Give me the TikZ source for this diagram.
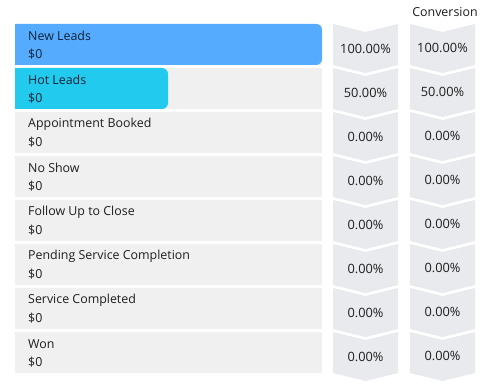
\documentclass[tikz,border=0pt]{standalone}
\usepackage{fontspec}
\setmainfont{Open Sans}
\definecolor{leadblue}{HTML}{55ACFE}
\definecolor{hotcyan}{HTML}{22CBEE}
\definecolor{rowbg}{HTML}{F0F0F0}
\definecolor{chev}{HTML}{E9EAEE}
\definecolor{txt}{HTML}{1E1E1E}
\definecolor{txtdark}{HTML}{122338}
\begin{document}
\begin{tikzpicture}[x=1pt,y=-1pt,
  lbl/.style={anchor=west,inner sep=0pt,font=\fontsize{12.4}{14}\selectfont,text=txt},
  pct/.style={anchor=center,inner sep=0pt,font=\fontsize{12.8}{14}\selectfont,text=txt},
  hdr/.style={anchor=center,inner sep=0pt,font=\fontsize{12.4}{14}\selectfont,text=txt}]
\useasboundingbox[fill=white] (0,0) rectangle (494,390);
\node[hdr] (hdr) at (445,12) {Conversion};
\foreach \i/\name/\a/\b in {0/New Leads/100.00\%/100.00\%,1/Hot Leads/50.00\%/50.00\%,2/Appointment Booked/0.00\%/0.00\%,3/No Show/0.00\%/0.00\%,4/Follow Up to Close/0.00\%/0.00\%,5/Pending Service Completion/0.00\%/0.00\%,6/Service Completed/0.00\%/0.00\%,7/Won/0.00\%/0.00\%}{
  \pgfmathsetmacro{\yt}{24+44*\i}
  \pgfmathsetmacro{\yb}{\yt+41}
  \fill[rowbg] (15,\yt) rectangle (322,\yb);
  \ifnum\i=0 \fill[leadblue,rounded corners=6pt] (15,\yt) -- (322,\yt) -- (322,\yb) -- (15,\yb) [sharp corners] -- cycle;
    \fill[leadblue] (15,\yt) rectangle (25,\yb);\fi
  \ifnum\i=1 \fill[hotcyan,rounded corners=6pt] (15,\yt) -- (168,\yt) -- (168,\yb) -- (15,\yb) -- cycle;
    \fill[hotcyan] (15,\yt) rectangle (25,\yb);\fi
  \fill[chev] (333,\yt) -- (365.5,\yt+8) -- (398,\yt) -- (398,\yb) -- (365.5,\yb+8) -- (333,\yb) -- cycle;
  \fill[chev] (410,\yt) -- (442.5,\yt+8) -- (475,\yt) -- (475,\yb) -- (442.5,\yb+8) -- (410,\yb) -- cycle;
  \ifnum\i<2
    \node[lbl,text=txtdark] (n\i) at (28,\yt+12) {\name};
    \node[lbl,text=txtdark] (v\i) at (28,\yt+30) {\$0};
  \else
    \node[lbl] (n\i) at (28,\yt+12) {\name};
    \node[lbl] (v\i) at (28,\yt+30) {\$0};
  \fi
  \node[pct] (a\i) at (365.5,\yt+25) {\a};
  \node[pct] (b\i) at (442.5,\yt+24) {\b};
}
\end{tikzpicture}
\end{document}
